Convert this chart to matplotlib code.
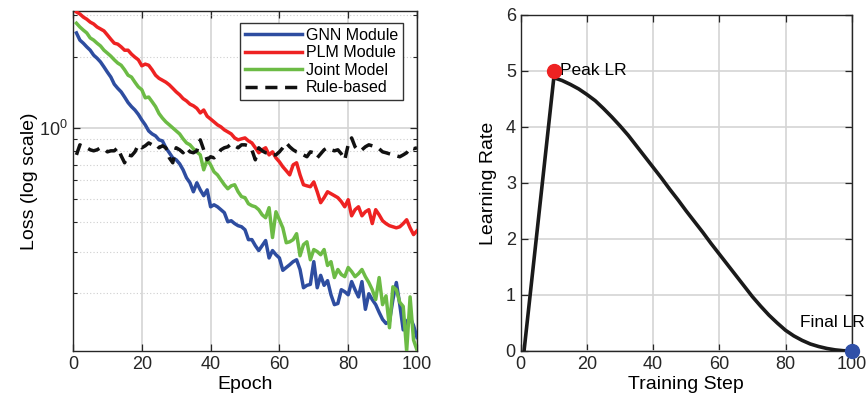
import numpy as np
import matplotlib
matplotlib.use("Agg")
import matplotlib.pyplot as plt
from matplotlib.ticker import LogLocator, NullFormatter, FixedLocator

plt.rcParams['font.family'] = ['Liberation Sans', 'DejaVu Sans']

epochs = list(range(1, 101))

gnn_loss = [2.52, 2.35, 2.28, 2.20, 2.13, 2.03, 1.97, 1.90, 1.81, 1.72,
            1.64, 1.53, 1.47, 1.42, 1.35, 1.28, 1.23, 1.19, 1.14, 1.08,
            1.03, 0.971, 0.943, 0.925, 0.890, 0.881, 0.824, 0.785, 0.747, 0.733,
            0.705, 0.665, 0.615, 0.586, 0.537, 0.586, 0.547, 0.517, 0.547, 0.464,
            0.473, 0.464, 0.451, 0.438, 0.401, 0.405, 0.394, 0.386, 0.382, 0.371,
            0.337, 0.337, 0.318, 0.303, 0.318, 0.334, 0.282, 0.303, 0.291, 0.282,
            0.250, 0.257, 0.264, 0.272, 0.277, 0.252, 0.211, 0.216, 0.218, 0.272,
            0.211, 0.238, 0.216, 0.226, 0.197, 0.179, 0.181, 0.207, 0.203, 0.197,
            0.224, 0.207, 0.193, 0.224, 0.171, 0.199, 0.188, 0.179, 0.166, 0.155,
            0.149, 0.152, 0.188, 0.222, 0.179, 0.140, 0.152, 0.158, 0.146, 0.130]

plm_loss = [3.09, 3.03, 2.94, 2.88, 2.80, 2.75, 2.67, 2.62, 2.57, 2.47,
            2.37, 2.28, 2.26, 2.20, 2.13, 2.13, 2.05, 1.99, 1.94, 1.83,
            1.86, 1.84, 1.76, 1.67, 1.62, 1.59, 1.56, 1.52, 1.47, 1.42,
            1.38, 1.33, 1.30, 1.26, 1.24, 1.21, 1.157, 1.19, 1.12, 1.09,
            1.06, 1.03, 1.01, 0.981, 0.962, 0.943, 0.907, 0.890, 0.899, 0.907,
            0.881, 0.864, 0.824, 0.785, 0.808, 0.824, 0.769, 0.792, 0.747, 0.719,
            0.685, 0.659, 0.633, 0.698, 0.712, 0.633, 0.575, 0.569, 0.564, 0.591,
            0.537, 0.483, 0.507, 0.537, 0.527, 0.517, 0.507, 0.488, 0.464, 0.497,
            0.425, 0.451, 0.464, 0.425, 0.442, 0.451, 0.394, 0.451, 0.429, 0.405,
            0.394, 0.386, 0.382, 0.378, 0.382, 0.394, 0.409, 0.378, 0.354, 0.367]

joint_loss = [2.77, 2.67, 2.59, 2.52, 2.40, 2.35, 2.28, 2.22, 2.13, 2.07,
              2.01, 1.94, 1.88, 1.84, 1.76, 1.67, 1.64, 1.56, 1.49, 1.45,
              1.34, 1.35, 1.29, 1.23, 1.15, 1.10, 1.06, 1.03, 1.00, 0.971,
              0.943, 0.899, 0.864, 0.848, 0.816, 0.792, 0.769, 0.665, 0.733, 0.698,
              0.652, 0.633, 0.603, 0.575, 0.553, 0.569, 0.575, 0.537, 0.512, 0.507,
              0.478, 0.469, 0.464, 0.451, 0.429, 0.417, 0.460, 0.344, 0.442, 0.409,
              0.378, 0.327, 0.330, 0.337, 0.357, 0.288, 0.321, 0.330, 0.277, 0.306,
              0.300, 0.291, 0.306, 0.262, 0.272, 0.233, 0.252, 0.240, 0.235, 0.257,
              0.247, 0.235, 0.242, 0.252, 0.235, 0.222, 0.207, 0.188, 0.233, 0.179,
              0.195, 0.143, 0.213, 0.207, 0.183, 0.176, 0.114, 0.193, 0.127, 0.115]

rule_loss = [0.769, 0.848, 0.832, 0.824, 0.808, 0.800, 0.808, 0.824, 0.816, 0.792,
             0.800, 0.800, 0.824, 0.762, 0.712, 0.769, 0.762, 0.792, 0.848, 0.824,
             0.840, 0.864, 0.848, 0.856, 0.824, 0.840, 0.824, 0.747, 0.712, 0.824,
             0.808, 0.785, 0.824, 0.792, 0.785, 0.800, 0.890, 0.808, 0.733, 0.755,
             0.747, 0.769, 0.808, 0.824, 0.832, 0.856, 0.840, 0.824, 0.848, 0.848,
             0.840, 0.808, 0.733, 0.824, 0.800, 0.785, 0.785, 0.769, 0.769, 0.792,
             0.824, 0.864, 0.832, 0.808, 0.792, 0.785, 0.769, 0.755, 0.792, 0.785,
             0.747, 0.777, 0.808, 0.824, 0.808, 0.800, 0.808, 0.777, 0.733, 0.848,
             0.907, 0.832, 0.800, 0.808, 0.832, 0.848, 0.840, 0.832, 0.816, 0.792,
             0.785, 0.777, 0.769, 0.762, 0.755, 0.769, 0.785, 0.824, 0.816, 0.824]

series_labels = ["GNN Module", "PLM Module", "Joint Model", "Rule-based"]

lr_steps = [1, 10, 12.5, 15, 17.5, 20, 22.5, 25, 27.5, 30, 32.5, 35, 37.5, 40,
            42.5, 45, 47.5, 50, 52.5, 55, 57.5, 60, 62.5, 65, 67.5, 70, 72.5,
            75, 77.5, 80, 82.5, 85, 87.5, 90, 92.5, 95, 97.5, 100]
lr_values = [0.0, 4.88, 4.83, 4.76, 4.68, 4.58, 4.47, 4.33, 4.18, 4.02, 3.85,
             3.66, 3.47, 3.28, 3.09, 2.89, 2.70, 2.50, 2.31, 2.12, 1.92, 1.73,
             1.54, 1.35, 1.16, 0.97, 0.80, 0.64, 0.50, 0.37, 0.27, 0.19, 0.125,
             0.08, 0.045, 0.02, 0.005, 0.0]
peak_point = (10, 5.0)
final_point = (100, 0.0)

fig = plt.figure(figsize=(8.66, 4.04), dpi=100)

ax1 = fig.add_axes([0.0843, 0.1312, 0.3972, 0.8416])
ax2 = fig.add_axes([0.6013, 0.1312, 0.3822, 0.8317])

grid_c = '#d4d4d4'
spine_c = '#262626'

# Left plot
lw = 2.5
ax1.plot(epochs, gnn_loss, color='#2E4DA0', lw=lw, label=series_labels[0], zorder=3)
ax1.plot(epochs, plm_loss, color='#EE2222', lw=lw, label=series_labels[1], zorder=3)
ax1.plot(epochs, joint_loss, color='#6CBB45', lw=lw, label=series_labels[2], zorder=3)
ax1.plot(epochs, rule_loss, color='#111111', lw=lw, ls=(0, (3.5, 2.2)), label=series_labels[3], zorder=4)
ax1.set_yscale('log')
ax1.set_xlim(0, 100)
ax1.set_ylim(0.114, 3.12)
ax1.set_xticks([0, 20, 40, 60, 80, 100])
ax1.yaxis.set_major_locator(FixedLocator([1.0]))
ax1.yaxis.set_minor_locator(LogLocator(base=10, subs=np.arange(2, 10)))
ax1.yaxis.set_minor_formatter(NullFormatter())
ax1.grid(True, which='major', axis='both', color=grid_c, lw=1.2, ls='-', zorder=0)
ax1.grid(True, which='minor', axis='y', color='#cfcfcf', lw=0.8, ls=(0, (1, 2)), zorder=0)
ax1.set_xlabel('Epoch', fontsize=14, labelpad=2)
ax1.set_ylabel('Loss (log scale)', fontsize=14, labelpad=1)
leg = ax1.legend(loc='upper right', bbox_to_anchor=(0.959, 0.965), borderaxespad=0,
                 fontsize=11.5, handlelength=3.6, handletextpad=0.2, labelspacing=0.15,
                 fancybox=False, framealpha=1, borderpad=0.32)
leg.get_frame().set_edgecolor('#333333')
leg.get_frame().set_linewidth(1.0)

# Right plot
ax2.plot(lr_steps, lr_values, color='#1a1a1a', lw=2.6, zorder=3, solid_joinstyle='miter')
ax2.plot([peak_point[0]], [peak_point[1]], 'o', color='#EE2222', ms=10, zorder=4)
ax2.plot([final_point[0]], [final_point[1]], 'o', color='#3050A8', ms=10, zorder=4, clip_on=False)
ax2.text(11.8, 5.0, 'Peak LR', fontsize=12.5, va='center', ha='left')
ax2.text(84.5, 0.5, 'Final LR', fontsize=12.5, va='center', ha='left')
ax2.set_xlim(0, 100)
ax2.set_ylim(0, 6)
ax2.set_xticks([0, 20, 40, 60, 80, 100])
ax2.set_yticks([0, 1, 2, 3, 4, 5, 6])
ax2.grid(True, color=grid_c, lw=1.2, ls='-', zorder=0)
ax2.set_xlabel('Training Step', fontsize=14, labelpad=2)
ax2.set_ylabel('Learning Rate', fontsize=14, labelpad=6)

for ax in (ax1, ax2):
    ax.set_axisbelow(True)
    for s in ax.spines.values():
        s.set_color(spine_c)
        s.set_linewidth(1.0)
    ax.tick_params(which='both', direction='in', top=True, right=True,
                   colors=spine_c, labelcolor='#262626', labelsize=13)
    ax.tick_params(which='major', length=5, width=0.9)
    ax.tick_params(which='minor', length=3, width=0.8)

fig.savefig('out.png', dpi=100)
